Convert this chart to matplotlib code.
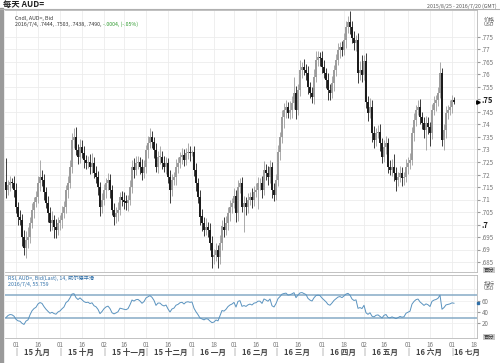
import numpy as np
import pandas as pd
from matplotlib import pyplot as plt
from matplotlib.patches import Rectangle
from matplotlib.transforms import blended_transform_factory

plt.rcParams['font.family'] = ['Noto Sans CJK SC', 'DejaVu Sans']

# Denné uzatváracie ceny AUD= (2015/8/25 - 2016/7/4), odčítané z grafu
closes = [
    0.7138, 0.7160, 0.7170, 0.7165, 0.7140, 0.7070, 0.7030, 0.7018, 0.6950, 0.6905, 0.6938, 0.6950, 0.7005, 0.7058, 0.7090,
    0.7110, 0.7165, 0.7190, 0.7178, 0.7130, 0.7085, 0.7045, 0.7005, 0.7018, 0.6992, 0.6978, 0.7005, 0.7018, 0.7045, 0.7070,
    0.7138, 0.7165, 0.7232, 0.7338, 0.7350, 0.7298, 0.7271, 0.7312, 0.7285, 0.7258, 0.7245, 0.7251, 0.7232, 0.7245, 0.7205,
    0.7190, 0.7150, 0.7070, 0.7098, 0.7138, 0.7165, 0.7178, 0.7138, 0.7058, 0.7032, 0.7045, 0.7060, 0.7110, 0.7100, 0.7092,
    0.7085, 0.7098, 0.7150, 0.7232, 0.7218, 0.7245, 0.7250, 0.7232, 0.7205, 0.7232, 0.7298, 0.7325, 0.7350, 0.7332, 0.7298,
    0.7232, 0.7271, 0.7271, 0.7245, 0.7232, 0.7245, 0.7190, 0.7138, 0.7178, 0.7190, 0.7232, 0.7245, 0.7271, 0.7278, 0.7258,
    0.7285, 0.7291, 0.7285, 0.7290, 0.7218, 0.7165, 0.7112, 0.7032, 0.7005, 0.6980, 0.6992, 0.6980, 0.6925, 0.6872, 0.6878,
    0.6898, 0.6872, 0.6925, 0.6992, 0.6980, 0.7005, 0.7045, 0.7070, 0.7085, 0.7112, 0.7045, 0.7150, 0.7165, 0.7070, 0.7085,
    0.7070, 0.7098, 0.7112, 0.7098, 0.7130, 0.7138, 0.7165, 0.7165, 0.7138, 0.7218, 0.7205, 0.7190, 0.7232, 0.7138, 0.7118,
    0.7178, 0.7290, 0.7350, 0.7432, 0.7458, 0.7472, 0.7445, 0.7458, 0.7485, 0.7525, 0.7458, 0.7538, 0.7618, 0.7632, 0.7618,
    0.7605, 0.7551, 0.7525, 0.7511, 0.7591, 0.7658, 0.7671, 0.7665, 0.7632, 0.7605, 0.7578, 0.7538, 0.7525, 0.7565, 0.7618,
    0.7658, 0.7698, 0.7711, 0.7698, 0.7738, 0.7791, 0.7811, 0.7791, 0.7745, 0.7725, 0.7738, 0.7605, 0.7618, 0.7600, 0.7655,
    0.7491, 0.7445, 0.7472, 0.7365, 0.7338, 0.7365, 0.7372, 0.7325, 0.7271, 0.7312, 0.7325, 0.7232, 0.7218, 0.7232, 0.7205,
    0.7178, 0.7190, 0.7205, 0.7185, 0.7190, 0.7232, 0.7245, 0.7258, 0.7365, 0.7418, 0.7458, 0.7472, 0.7432, 0.7405, 0.7378,
    0.7405, 0.7392, 0.7365, 0.7458, 0.7485, 0.7498, 0.7525, 0.7605, 0.7338, 0.7378, 0.7445, 0.7458, 0.7472, 0.7498, 0.7490,
]
first_open = 0.7170

# Horný a dolný knôt (v pipoch)
wick_up = [
    95, 20, 25, 15, 30, 25, 20, 30, 25, 30, 35, 40, 25, 30, 20,
    25, 30, 70, 30, 25, 20, 30, 25, 35, 20, 30, 25, 20, 30, 25,
    20, 30, 25, 30, 35, 40, 25, 30, 25, 30, 20, 25, 30, 40, 25,
    30, 25, 20, 30, 25, 20, 30, 25, 20, 30, 25, 30, 20, 25, 30,
    25, 20, 30, 25, 35, 30, 25, 20, 30, 25, 20, 30, 35, 25, 20,
    30, 25, 45, 25, 30, 25, 20, 30, 25, 20, 30, 25, 20, 30, 25,
    20, 35, 25, 10, 25, 30, 20, 25, 30, 25, 35, 20, 25, 30, 25,
    30, 20, 35, 25, 40, 30, 25, 30, 20, 35, 25, 30, 20, 25, 30,
    25, 30, 20, 35, 25, 30, 25, 20, 30, 35, 25, 30, 25, 20, 30,
    25, 30, 20, 25, 30, 25, 20, 35, 30, 65, 30, 25, 40, 20, 30,
    25, 30, 20, 25, 30, 35, 25, 20, 30, 25, 20, 30, 25, 30, 20,
    25, 30, 20, 25, 30, 25, 25, 45, 25, 30, 20, 30, 35, 60, 25,
    30, 25, 35, 25, 30, 20, 25, 30, 20, 25, 30, 20, 25, 30, 50,
    25, 20, 30, 25, 20, 30, 25, 30, 25, 30, 20, 25, 30, 20, 25,
    30, 25, 20, 25, 30, 20, 25, 45, 20, 25, 30, 20, 25, 20, 13,
]
wick_dn = [
    30, 20, 25, 20, 30, 25, 30, 20, 35, 25, 40, 30, 25, 20, 30,
    20, 25, 30, 25, 30, 20, 35, 30, 25, 45, 30, 20, 25, 30, 20,
    25, 30, 20, 25, 30, 20, 30, 25, 20, 30, 25, 20, 30, 25, 20,
    25, 30, 35, 25, 20, 30, 25, 30, 20, 35, 25, 30, 20, 25, 30,
    25, 30, 20, 25, 30, 20, 25, 30, 25, 20, 25, 30, 20, 25, 30,
    20, 25, 30, 25, 20, 30, 25, 50, 25, 20, 30, 25, 20, 30, 25,
    20, 25, 30, 10, 25, 30, 25, 35, 30, 25, 20, 30, 25, 45, 30,
    25, 45, 30, 25, 30, 20, 25, 30, 25, 20, 35, 30, 25, 20, 100,
    30, 25, 20, 30, 25, 20, 75, 25, 30, 20, 25, 30, 25, 30, 25,
    20, 25, 30, 25, 45, 30, 20, 25, 30, 25, 35, 20, 25, 30, 20,
    25, 30, 20, 25, 30, 20, 25, 30, 25, 20, 30, 40, 25, 20, 30,
    25, 20, 30, 25, 20, 30, 25, 30, 20, 25, 30, 40, 25, 30, 20,
    25, 30, 20, 35, 30, 25, 20, 30, 25, 20, 30, 25, 20, 25, 30,
    45, 25, 20, 30, 25, 20, 30, 25, 20, 30, 25, 20, 30, 25, 30,
    80, 30, 50, 25, 20, 30, 25, 20, 25, 40, 30, 25, 20, 25, 6,
]

# Ceny pred 25.8. len na zahriatie RSI
warmup_closes = [0.7300, 0.7285, 0.7260, 0.7290, 0.7305, 0.7300, 0.7375, 0.7380, 0.7365, 0.7355,
                 0.7380, 0.7330, 0.7360, 0.7390, 0.7370, 0.7365, 0.7335, 0.7315, 0.7315, 0.7305, 0.7200]

tick_dates = ['2015-09-01', '2015-09-16', '2015-10-01', '2015-10-16', '2015-11-02', '2015-11-16',
              '2015-12-01', '2015-12-16', '2016-01-01', '2016-01-18', '2016-02-01', '2016-02-16',
              '2016-03-01', '2016-03-16', '2016-04-01', '2016-04-18', '2016-05-02', '2016-05-16',
              '2016-06-01', '2016-06-16', '2016-07-01', '2016-07-18']
month_starts = ['2015-09-01', '2015-10-01', '2015-11-02', '2015-12-01', '2016-01-01', '2016-02-01',
                '2016-03-01', '2016-04-01', '2016-05-02', '2016-06-01', '2016-07-01']
month_labels = ['15 九月', '15 十月', '15 十一月', '15 十二月', '16 一月', '16 二月',
                '16 三月', '16 四月', '16 五月', '16 六月', '16 七月']

days = pd.bdate_range('2015-08-25', '2016-07-20')
assert len(closes) == len(wick_up) == len(wick_dn) == 225

closes = np.array(closes)
opens = np.concatenate([[first_open], closes[:-1]])
highs = np.maximum(opens, closes) + np.array(wick_up) / 10000
lows = np.minimum(opens, closes) - np.array(wick_dn) / 10000
idx = np.arange(len(closes))


def pos(d):
    return days.get_loc(pd.Timestamp(d))


# RSI 14, Wilderovo vyhladzovanie
allc = np.concatenate([warmup_closes, closes])
diff = np.diff(allc)
gain = np.clip(diff, 0, None)
loss = np.clip(-diff, 0, None)
ag, al = gain[:14].mean(), loss[:14].mean()
rsi_all = []
for g, l in zip(gain[14:], loss[14:]):
    ag = (ag * 13 + g) / 14
    al = (al * 13 + l) / 14
    rsi_all.append(100 - 100 / (1 + ag / al))
rsi = np.array(rsi_all)[-len(closes):]


def fx(px):
    return px / 500


def fy(py):
    return 1 - py / 363


fig = plt.figure(figsize=(5, 3.63), dpi=100)
ax = fig.add_axes([fx(5), fy(272), fx(477) - fx(5), fy(10) - fy(272)])
ax2 = fig.add_axes([fx(5), fy(338), fx(477) - fx(5), fy(275) - fy(338)])

tick_idx = [pos(d) for d in tick_dates]
xmin, xmax = -0.5, 235.5

for a in (ax, ax2):
    a.set_xlim(xmin, xmax)
    for t in tick_idx:
        a.axvline(t, color='#ececec', lw=0.6, zorder=0)
    for s in ('left',):
        a.spines[s].set_visible(False)
    for s in ('top', 'right', 'bottom'):
        a.spines[s].set_color('#b8b8b8')
        a.spines[s].set_linewidth(0.6)
    a.yaxis.tick_right()

# Sviečky
up = closes >= opens
col = np.where(up, '#9c9c9c', '#1c1c1c')
ax.vlines(idx, lows, highs, colors=col, lw=0.6, zorder=2)
body = np.maximum(np.abs(closes - opens), 0.0003)
ax.bar(idx, body, bottom=np.minimum(opens, closes), width=0.75, color=col, lw=0, zorder=3)

price_ticks = np.arange(0.685, 0.7751, 0.005)
for p in price_ticks:
    ax.axhline(p, color='#ececec', lw=0.6, zorder=0)
ax.set_ylim(0.681, 0.7858)
ax.set_yticks(price_ticks)
ax.set_yticklabels([f'{p:.3f}'.rstrip('0').lstrip('0') for p in price_ticks])
ax.tick_params(axis='y', length=2, color='#999999', labelsize=4.5, labelcolor='#777777', pad=1.5)
for lab in ax.get_yticklabels():
    if lab.get_text() in ('.75', '.7'):
        lab.set_fontweight('bold')
        lab.set_fontsize(5.5)
        lab.set_color('#222222')
ax.set_xticks(tick_idx)
ax.tick_params(axis='x', length=0, labelbottom=False)
ax.plot([236], [closes[-1]], marker='>', ms=2.5, color='black', clip_on=False, zorder=5)

# RSI panel
for v in (20, 40, 60, 80):
    ax2.axhline(v, color='#f0f0f0', lw=0.6, zorder=0)
ax2.axhline(70, color='#86abc6', lw=1.1, zorder=2)
ax2.axhline(30, color='#86abc6', lw=1.1, zorder=2)
ax2.plot(idx, rsi, color='#5a93bf', lw=0.7, zorder=3)
ax2.set_ylim(-5.8, 105.3)
ax2.set_yticks([20, 40, 60])
ax2.tick_params(axis='y', length=2, color='#999999', labelsize=4.5, labelcolor='#777777', pad=1.5)
ax2.plot([236], [rsi[-1]], marker='s', ms=2, color='#2f6fa8', clip_on=False, zorder=5)
ax2.set_xticks(tick_idx)
ax2.set_xticklabels([d[-2:] for d in tick_dates])
ax2.tick_params(axis='x', length=0, labelsize=4.5, labelcolor='#777777', pad=2)

# Mesiace pod osou
tr = blended_transform_factory(ax2.transData, fig.transFigure)
for d, lab in zip(month_starts, month_labels):
    i = pos(d)
    fig.text(i, fy(352), '|', transform=tr, ha='center', va='center', fontsize=5.5, color='#777777')
    off = 1 if lab == '16 七月' else 4
    fig.text(i + off, fy(352), lab, transform=tr, ha='left', va='center', fontsize=5.5,
             color='#444444', fontweight='bold')

# Rám a hlavička
fig.patches.append(Rectangle((0, 0), fx(3), fy(8), transform=fig.transFigure, color='#9a9a9a', zorder=0))
fig.add_artist(plt.Line2D([0, 1], [fy(8.5), fy(8.5)], transform=fig.transFigure, color='#b0b0b0', lw=0.8))
fig.text(fx(3), fy(4), '每天 AUD=', fontsize=6, fontweight='bold', va='center', ha='left', color='#222222')
fig.text(fx(497), fy(6), '2015/8/25 - 2016/7/20 (GMT)', fontsize=3.8, va='center', ha='right', color='#555555')
fig.text(fx(484), fy(19), '价格', fontsize=4, va='center', ha='left', color='#666666')
fig.text(fx(484), fy(25), 'USD', fontsize=3.8, va='center', ha='left', color='#666666')
fig.text(fx(484), fy(283), '指标', fontsize=4, va='center', ha='left', color='#666666')
fig.text(fx(484), fy(289), 'USD', fontsize=3.8, va='center', ha='left', color='#666666')
for yy in (270, 337):
    fig.text(fx(489), fy(yy), '百分', fontsize=3.8, va='center', ha='center', color='#333333',
             bbox=dict(boxstyle='square,pad=0.15', fc='#c8c8c8', ec='none'))

fig.text(fx(15), fy(18), 'Cndl, AUD=, Bid', fontsize=3.8, va='center', color='#333333')
t1 = fig.text(fx(15), fy(24), '2016/7/4, .7444, .7503, .7438, .7490, ', fontsize=3.8, va='center', color='#333333')
fig.text(fx(8), fy(278.5), 'RSI, AUD=, Bid(Last), 14, 威尔德平滑', fontsize=3.8, va='center', color='#2f6fa8')
fig.text(fx(8), fy(284.5), '2016/7/4, 55.759', fontsize=3.8, va='center', color='#2f6fa8')

fig.canvas.draw()
bb = t1.get_window_extent().transformed(fig.transFigure.inverted())
fig.text(bb.x1, fy(24), '-.0004, (-.05%)', fontsize=3.8, va='center', color='#2e9a2e')

fig.savefig('out.png', dpi=100)
